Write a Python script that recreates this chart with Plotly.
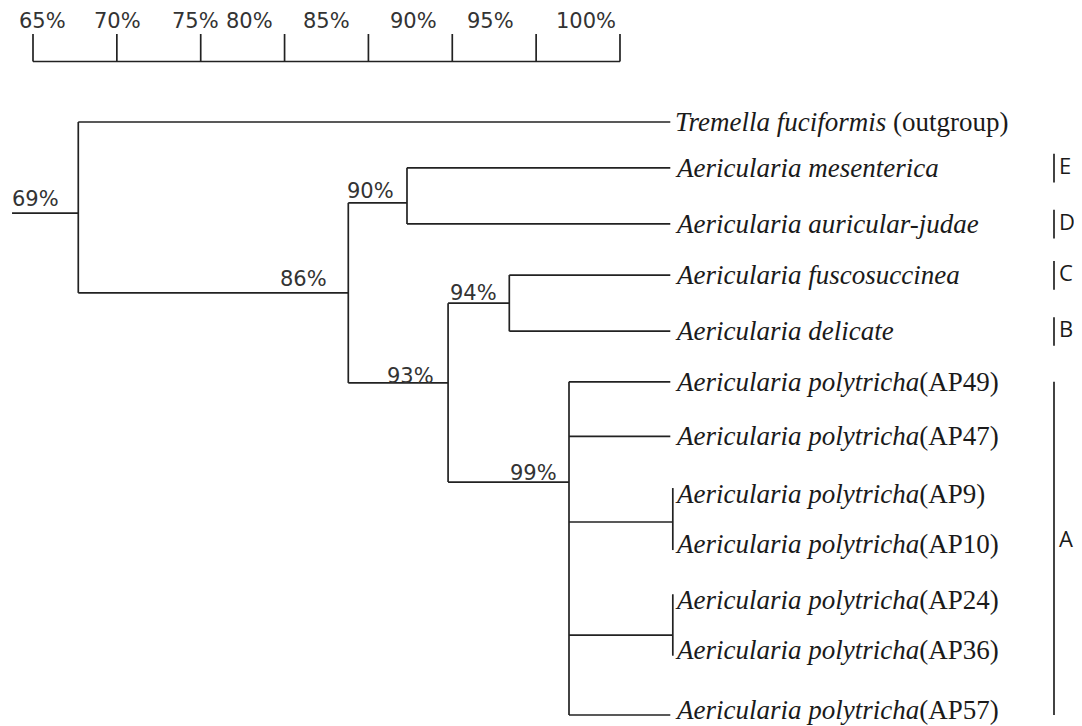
import plotly.graph_objects as go

# ---------------- data ----------------
scale_values = [65, 70, 75, 80, 85, 90, 95, 100]
scale_labels = ["65%", "70%", "75%", "80%", "85%", "90%", "95%", "100%"]

leaf_names = [
    "<i>Tremella fuciformis</i> (outgroup)",
    "<i>Aericularia mesenterica</i>",
    "<i>Aericularia auricular-judae</i>",
    "<i>Aericularia fuscosuccinea</i>",
    "<i>Aericularia delicate</i>",
    "<i>Aericularia polytricha</i>(AP49)",
    "<i>Aericularia polytricha</i>(AP47)",
    "<i>Aericularia polytricha</i>(AP9)",
    "<i>Aericularia polytricha</i>(AP10)",
    "<i>Aericularia polytricha</i>(AP24)",
    "<i>Aericularia polytricha</i>(AP36)",
    "<i>Aericularia polytricha</i>(AP57)",
]
leaf_ids = ["L%d" % i for i in range(len(leaf_names))]
# leaf row positions (row units)
leaf_rows = [0, 0.85, 1.89, 2.84, 3.88, 4.82, 5.83, 6.90, 7.83, 8.87, 9.79, 11.0]
leaf_pos = 103.0  # where leaf branches end, on the similarity scale

node_ids = ["n69", "n86", "n90", "n93", "n94", "n99", "nAP9_10", "nAP24_36"]
node_labels = ["69%", "86%", "90%", "93%", "94%", "99%", "", ""]
# joining positions read on the similarity scale of the picture
node_pos = [67.7, 83.8, 87.3, 89.75, 93.4, 96.96, 103.15, 103.15]
node_rows = [1.69, 3.17, 1.50, 4.84, 3.36, 6.68, 7.42, 9.52]
node_children = [
    ["L0", "n86"],
    ["n90", "n93"],
    ["L1", "L2"],
    ["n94", "n99"],
    ["L3", "L4"],
    ["L5", "L6", "nAP9_10", "nAP24_36", "L11"],
    ["L7", "L8"],
    ["L9", "L10"],
]
root_stub_pos = 63.75

clade_names = ["E", "D", "C", "B", "A"]
clade_first = [1, 2, 3, 4, 5]
clade_last = [1, 2, 3, 4, 11]

# ---------------- layout helpers ----------------
W, H = 1082, 726
OFF = 8                          # page body margin in the browser
PX0, PXU = 33.0, 16.771          # page px of 65 %, px per percent
RY0, RYU = 122.0, 53.91          # page px of row 0, px per row
x_range = [65 + (OFF - PX0) / PXU, 65 + (W + OFF - PX0) / PXU]
y_range = [(H + OFF - RY0) / RYU, (OFF - RY0) / RYU]


def px_to_row(p):
    return (p - RY0) / RYU


def px_to_x(p):
    return 65 + (p - PX0) / PXU


LINE = dict(color="#222222", width=1.7)

pos = {lid: leaf_pos for lid in leaf_ids}
row = {lid: r for lid, r in zip(leaf_ids, leaf_rows)}
for nid, p, r in zip(node_ids, node_pos, node_rows):
    pos[nid] = p
    row[nid] = r

xs, ys = [], []
for nid, kids in zip(node_ids, node_children):
    krows = [row[k] for k in kids]
    ext = 0.11 if all(k.startswith("L") for k in kids) and pos[kids[0]] < pos[nid] else 0.0
    xs += [pos[nid], pos[nid], None]
    ys += [min(krows) - ext, max(krows) + ext, None]
    for k in kids:
        if pos[k] - pos[nid] > 1e-9:
            xs += [pos[nid], pos[k], None]
            ys += [row[k], row[k], None]
# root stub
xs += [root_stub_pos, node_pos[0], None]
ys += [node_rows[0], node_rows[0], None]

fig = go.Figure()
fig.add_trace(go.Scatter(x=xs, y=ys, mode="lines", line=LINE, hoverinfo="skip",
                         showlegend=False))

# scale bar
sb_base = px_to_row(61.5)
sb_top = px_to_row(34)
sx, sy = [scale_values[0], scale_values[-1], None], [sb_base, sb_base, None]
for v in scale_values:
    sx += [v, v, None]
    sy += [sb_base, sb_top, None]
fig.add_trace(go.Scatter(x=sx, y=sy, mode="lines", line=LINE, hoverinfo="skip",
                         showlegend=False))

annotations = []
scale_label_shift = [9.5, 1, -5, -35, -41.5, -38.5, -45.5, -33.5]
for v, lab, dx in zip(scale_values, scale_labels, scale_label_shift):
    annotations.append(dict(x=v, y=px_to_row(21), text=lab, showarrow=False,
                            xanchor="center", yanchor="middle", xshift=dx,
                            font=dict(family="DejaVu Sans", size=21, color="#333333")))

# node labels
node_label_dx = [-17, -19, -11, -12, -10, -10]
node_label_dy = [5, 5, 3, -2, 1, 0]
for i, lab in enumerate(node_labels):
    if not lab:
        continue
    annotations.append(dict(x=node_pos[i], y=node_rows[i], text=lab, showarrow=False,
                            xanchor="right", yanchor="bottom",
                            xshift=node_label_dx[i], yshift=node_label_dy[i] - 5,
                            font=dict(family="DejaVu Sans", size=21, color="#333333")))

# leaf labels
n_leaves = len(leaf_names)
for i, (name, r) in enumerate(zip(leaf_names, leaf_rows)):
    annotations.append(dict(x=leaf_pos, y=r, text=name, showarrow=False,
                            xanchor="left", yanchor="middle", xshift=3,
                            yshift=5 if i == n_leaves - 1 else 0,
                            font=dict(family="Liberation Serif", size=27, color="#1a1a1a")))

# clade bars and letters
bar_x = px_to_x(1054)
cx, cy = [], []
for name, a, b in zip(clade_names, clade_first, clade_last):
    top = leaf_rows[a] - (0.26 if a == b else 0.0)
    bot = leaf_rows[b] + (0.27 if a == b else 0.0)
    cx += [bar_x, bar_x, None]
    cy += [top, bot, None]
    annotations.append(dict(x=bar_x, y=(top + bot) / 2 - (0.06 if a == b else 0.2),
                            text=name, showarrow=False,
                            xanchor="left", yanchor="middle", xshift=3,
                            font=dict(family="Open Sans", size=22, color="#1a1a1a")))
fig.add_trace(go.Scatter(x=cx, y=cy, mode="lines", line=LINE, hoverinfo="skip",
                         showlegend=False))

fig.update_layout(
    width=W, height=H, margin=dict(l=0, r=0, t=0, b=0),
    paper_bgcolor="white", plot_bgcolor="white",
    xaxis=dict(range=x_range, visible=False, fixedrange=True),
    yaxis=dict(range=y_range, visible=False, fixedrange=True),
    annotations=annotations, showlegend=False,
)
fig.write_html("out.html")
